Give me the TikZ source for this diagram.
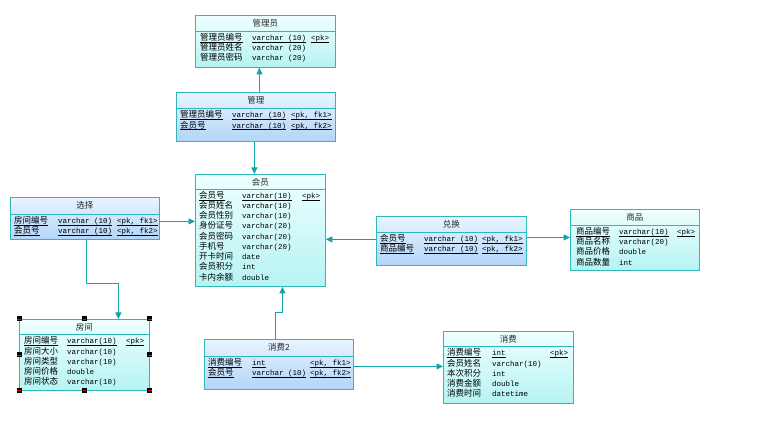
\documentclass[tikz,border=0pt]{standalone}
\usepackage{fontspec}
\usepackage{array}
\usetikzlibrary{arrows.meta}
\setmonofont{Liberation Mono}
\newfontfamily\cj{Noto Sans CJK SC}
\newcommand\cjf{\cj\fontsize{8.5}{10.2}\selectfont}
\newcommand\mf{\ttfamily\fontsize{7.5}{10.2}\selectfont}
\newsavebox\myulbox
\newcommand\ulx[1]{\leavevmode\sbox\myulbox{#1}\rlap{\rule[-1.7pt]{\wd\myulbox}{0.5pt}}\usebox\myulbox}
\setlength\tabcolsep{0pt}
\definecolor{bordc}{HTML}{30B8B8}
\definecolor{connc}{HTML}{10A4A8}
\definecolor{entT}{HTML}{EEFFFF}
\definecolor{entB}{HTML}{B6F3F3}
\definecolor{relT}{HTML}{E8F4FF}
\definecolor{relB}{HTML}{B2D5F8}
\tikzset{
  entity/.style={rectangle, draw=bordc, line width=0.8pt, top color=entT, bottom color=entB, inner sep=0pt},
  relation/.style={rectangle, draw=bordc, line width=0.8pt, top color=relT, bottom color=relB, inner sep=0pt},
  ttl/.style={font=\cjf, text=black!85, inner sep=0pt},
  bord/.style={draw=bordc, line width=0.8pt},
  rows/.style={font=\cjf, inner sep=0pt},
  conn/.style={draw=connc, line width=0.9pt, -{Triangle[length=6.5pt,width=6pt]}},
}
\newcommand\tbox[8]{%
  \node[#6, minimum width=#4pt, minimum height=#5pt, anchor=north west] (#1) at (#2,#3) {};
  \node[ttl] (#1-t) at ([yshift=-8.5pt]#1.north) {#7};
  \draw[bord] ([yshift=-#8pt]#1.north west) -- ([yshift=-#8pt]#1.north east);
}
\newcommand\trows[6]{%
  \node[rows, anchor=north west] (#1-r) at (#2,#3) {\begin{tabular}{@{}>{\cjf}p{#4pt}>{\mf}p{#5pt}>{\mf}l@{}}#6\end{tabular}};
}
\begin{document}
\begin{tikzpicture}[x=1pt,y=-1pt]
\useasboundingbox[fill=white] (0,0) rectangle (760,435);

% 管理员
\tbox{gly}{195}{15}{140}{52}{entity}{管理员}{16}
\trows{gly}{200}{33}{52}{59}{%
\ulx{管理员编号} & \ulx{varchar (10)} & \ulx{<pk>}\\
管理员姓名 & varchar (20) & \\
管理员密码 & varchar (20) & \\}

% 管理
\tbox{gl}{176}{92}{159}{49}{relation}{管理}{16.5}
\trows{gl}{180}{110.5}{52}{59}{%
\ulx{管理员编号} & \ulx{varchar (10)} & \ulx{<pk, fk1>}\\
\ulx{会员号} & \ulx{varchar (10)} & \ulx{<pk, fk2>}\\}

% 会员
\tbox{hy}{195}{174}{130}{112}{entity}{会员}{15}
\trows{hy}{199}{191}{43}{60}{%
\ulx{会员号} & \ulx{varchar(10)} & \ulx{<pk>}\\
会员姓名 & varchar(10) & \\
会员性别 & varchar(10) & \\
身份证号 & varchar(20) & \\
会员密码 & varchar(20) & \\
手机号 & varchar(20) & \\
开卡时间 & date & \\
会员积分 & int & \\
卡内余额 & double & \\}

% 选择
\tbox{xz}{10}{197}{149}{42}{relation}{选择}{17}
\trows{xz}{14}{216}{44}{59}{%
\ulx{房间编号} & \ulx{varchar (10)} & \ulx{<pk, fk1>}\\
\ulx{会员号} & \ulx{varchar (10)} & \ulx{<pk, fk2>}\\}

% 兑换
\tbox{dh}{376}{216}{150}{49}{relation}{兑换}{16}
\trows{dh}{380}{234}{44}{58}{%
\ulx{会员号} & \ulx{varchar (10)} & \ulx{<pk, fk1>}\\
\ulx{商品编号} & \ulx{varchar (10)} & \ulx{<pk, fk2>}\\}

% 商品
\tbox{sp}{570}{209}{129}{61}{entity}{商品}{16}
\trows{sp}{576}{227}{43}{58}{%
\ulx{商品编号} & \ulx{varchar(10)} & \ulx{<pk>}\\
商品名称 & varchar(20) & \\
商品价格 & double & \\
商品数量 & int & \\}

% 房间
\tbox{fj}{19}{319}{130}{71}{entity}{房间}{15.5}
\trows{fj}{24}{336.5}{43}{59}{%
\ulx{房间编号} & \ulx{varchar(10)} & \ulx{<pk>}\\
房间大小 & varchar(10) & \\
房间类型 & varchar(10) & \\
房间价格 & double & \\
房间状态 & varchar(10) & \\}

% 消费2
\tbox{xf2}{204}{339}{149}{50}{relation}{消费2}{17}
\trows{xf2}{208}{358}{44}{58}{%
\ulx{消费编号} & \ulx{int} & \ulx{<pk, fk1>}\\
\ulx{会员号} & \ulx{varchar (10)} & \ulx{<pk, fk2>}\\}

% 消费
\tbox{xf}{443}{331}{130}{72}{entity}{消费}{15.5}
\trows{xf}{447}{348.5}{45}{58}{%
\ulx{消费编号} & \ulx{int} & \ulx{<pk>}\\
会员姓名 & varchar(10) & \\
本次积分 & int & \\
消费金额 & double & \\
消费时间 & datetime & \\}

% connectors
\draw[conn] ([xshift=3.5pt]gl.north) -- ([xshift=3.5pt]gl.north |- gly.south);
\draw[conn] ([xshift=-1.5pt]gl.south) -- ([xshift=-1.5pt]gl.south |- hy.north);
\draw[conn] ([yshift=-3pt]xz.east) -- ([yshift=-3pt]xz.east -| hy.west);
\draw[conn] ([xshift=1.5pt]xz.south) -- ++(0,44) -| ([xshift=34pt]fj.north);
\draw[conn] ([yshift=1.5pt]dh.west) -- ([yshift=1.5pt]dh.west -| hy.east);
\draw[conn] ([yshift=3.5pt]dh.east) -- ([yshift=3.5pt]dh.east -| sp.west);
\draw[conn] ([xshift=-3.5pt]xf2.north) -- ++(0,-27) -| ([xshift=22pt]hy.south);
\draw[conn] ([yshift=-2pt]xf2.east) -- ([yshift=-2pt]xf2.east -| xf.west);

% selection handles
\foreach \a in {north west,north,north east,east,south east,south,south west,west}{
  \fill[black] (fj.\a) +(-2.5,-2.5) rectangle +(2.5,2.5);
  \draw[red, line width=0.7pt] (fj.\a) +(-1.8,0) -- +(1.8,0);
}
\end{tikzpicture}
\end{document}
